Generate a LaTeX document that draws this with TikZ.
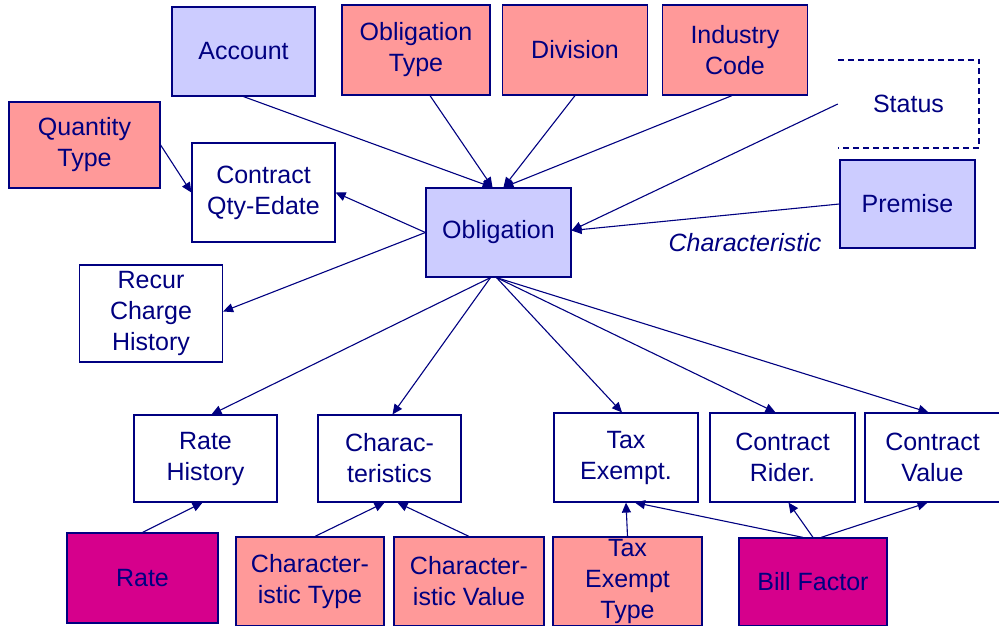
\documentclass[tikz,border=0pt]{standalone}
\usepackage{fontspec}
\setmainfont{Liberation Sans}
\usetikzlibrary{positioning, arrows.meta, calc}

\definecolor{navyline}{RGB}{0,0,128}
\definecolor{entblue}{RGB}{204,204,255}
\definecolor{entpink}{RGB}{255,153,153}
\definecolor{entmagenta}{RGB}{214,0,140}

\begin{document}
\begin{tikzpicture}[
    x=1pt, y=-1pt,
    box/.style={rectangle, draw=navyline, line width=1.2pt, text=navyline, fill=white,
        minimum width=145pt, minimum height=89pt, inner sep=0pt, align=center,
        font=\fontsize{25}{31}\selectfont},
    bluebox/.style={box, fill=entblue},
    pinkbox/.style={box, fill=entpink},
    magbox/.style={box, fill=entmagenta},
    arrow/.style={-{Triangle[length=10pt, width=9pt]}, draw=navyline, line width=1.1pt},
    label/.style={text=navyline, font=\fontsize{25}{31}\selectfont\itshape}
]
    \useasboundingbox (0,0) rectangle (999,626);

    % Top row
    \node[bluebox, minimum width=143pt] (account) at (243.5,51.5) {Account};
    \node[pinkbox, minimum width=148pt, minimum height=90pt] (obltype) at (416,50) {Obligation\\Type};
    \node[pinkbox, minimum height=90pt] (division) at (575,50) {Division};
    \node[pinkbox, minimum height=90pt] (indcode) at (735,50) {Industry\\Code};
    \node[text=navyline, font=\fontsize{25}{31}\selectfont, minimum width=141pt, minimum height=88pt] (status) at (908.5,104) {Status};
    \draw[navyline, line width=1.5pt, dash pattern=on 6pt off 4pt] (status.north west) -- (status.north east)
        -- (status.south east) -- (status.south west);

    % Middle
    \node[pinkbox, minimum width=151pt, minimum height=86pt] (qtytype) at (84.5,145) {Quantity\\Type};
    \node[box, minimum width=143pt, minimum height=99pt] (qtyedate) at (263.5,192.5) {Contract\\Qty-Edate};
    \node[bluebox] (obligation) at (498.5,232.5) {Obligation};
    \node[bluebox, minimum width=135pt, minimum height=88pt] (premise) at (907.5,204) {Premise};
    \node[label] (charlabel) at (745,243) {Characteristic};
    \node[box, minimum width=143pt, minimum height=97pt] (recur) at (151,313.5) {Recur\\Charge\\History};

    % Children of the obligation
    \node[box, minimum width=143pt, minimum height=87pt] (ratehist) at (205.5,458.5) {Rate\\History};
    \node[box, minimum width=143pt, minimum height=87pt] (chars) at (389.5,458.5) {Charac-\\teristics};
    \node[box, minimum width=144pt] (taxex) at (626,457.5) {Tax\\Exempt.};
    \node[box] (rider) at (782.5,457.5) {Contract\\Rider.};
    \node[box, minimum width=135pt] (cvalue) at (932.5,457.5) {Contract\\Value};

    % Bottom row
    \node[magbox, minimum width=151pt, minimum height=90pt] (rate) at (142.5,578) {Rate};
    \node[pinkbox, minimum width=148pt] (chartype) at (310,581.5) {Character-\\istic Type};
    \node[pinkbox, minimum width=150pt] (charval) at (469,581.5) {Character-\\istic Value};
    \node[pinkbox, minimum width=149pt] (taxtype) at (627.5,581.5) {Tax\\Exempt\\Type};
    \node[magbox, minimum width=148pt, minimum height=88pt] (billfactor) at (813,582) {Bill Factor};

    % Arrows into the obligation
    \draw[arrow] (account.south) -- ([xshift=-6pt]obligation.north);
    \draw[arrow] ([xshift=14pt]obltype.south) -- ([xshift=-6pt]obligation.north);
    \draw[arrow] (division.south) -- ([xshift=5pt]obligation.north);
    \draw[arrow] ([xshift=-3pt]indcode.south) -- ([xshift=5pt]obligation.north);
    \draw[arrow] (status.west) -- ([yshift=2pt]obligation.east);
    \draw[arrow] (premise.west) -- ([yshift=2pt]obligation.east);

    % Arrows out of the obligation
    \draw[arrow] (qtytype.east) -- (qtyedate.west);
    \draw[arrow] (obligation.west) -- (qtyedate.east);
    \draw[arrow] (obligation.west) -- ([yshift=2pt]recur.east);
    \draw[arrow] ([xshift=-8pt]obligation.south) -- ([xshift=6pt]ratehist.north);
    \draw[arrow] ([xshift=-8pt]obligation.south) -- ([xshift=3pt]chars.north);
    \draw[arrow] ([xshift=-2pt]obligation.south) -- ([xshift=-4pt]taxex.north);
    \draw[arrow] ([xshift=-2pt]obligation.south) -- ([xshift=-7pt]rider.north);
    \draw[arrow] ([xshift=-2pt]obligation.south) -- ([xshift=-4pt]cvalue.north);

    % Arrows from the bottom row
    \draw[arrow] (rate.north) -- ([xshift=-3pt]ratehist.south);
    \draw[arrow] ([xshift=5pt]chartype.north) -- ([xshift=-5pt]chars.south);
    \draw[arrow] (charval.north) -- ([xshift=8pt]chars.south);
    \draw[arrow] (taxtype.north) -- (taxex.south);
    \draw[arrow] ([xshift=-10pt]billfactor.north) -- ([xshift=9pt]taxex.south);
    \draw[arrow] (billfactor.north) -- ([xshift=6pt]rider.south);
    \draw[arrow] ([xshift=8pt]billfactor.north) -- ([xshift=-5pt]cvalue.south);
\end{tikzpicture}
\end{document}
